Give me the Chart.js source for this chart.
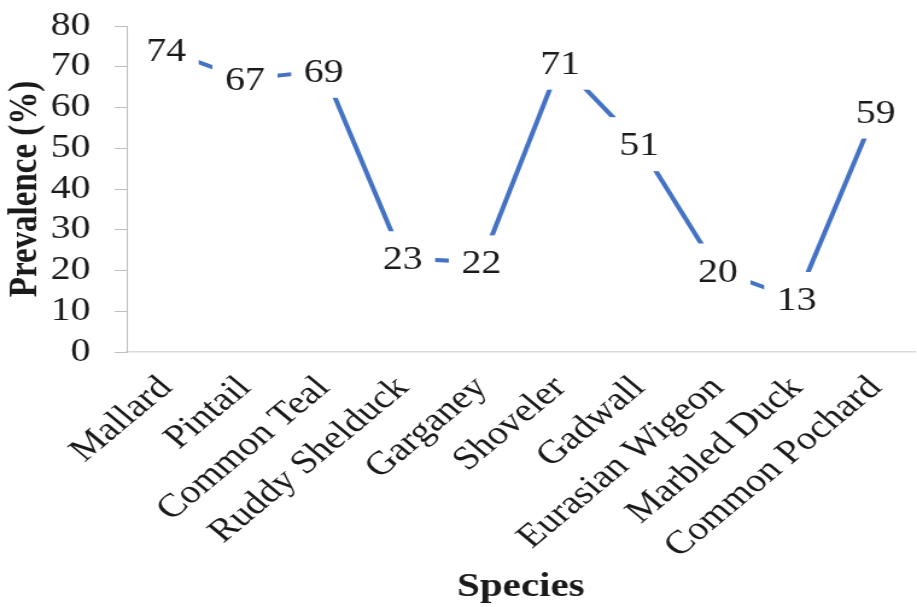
<!DOCTYPE html>
<html><head><meta charset="utf-8">
<script src="https://cdn.jsdelivr.net/npm/chart.js@4"></script>
<style>
html,body{margin:0;padding:0;background:#fff;overflow:hidden}
#c{display:block;width:917px !important;height:607px !important}
</style></head><body>
<canvas id="c" width="760" height="607"></canvas>
<script>
const categories = ['Mallard','Pintail','Common Teal','Ruddy Shelduck','Garganey','Shoveler','Gadwall','Eurasian Wigeon','Marbled Duck','Common Pochard'];
const prevalence = [74,67,69,23,22,71,51,20,13,59];
const yMin = 0, yMax = 80, yStep = 10;
const yTitle = 'Prevalence (%)';
const xTitle = 'Species';

const FONT = "'Liberation Serif','Times New Roman',serif";
const TXT = '#1a1a1a';

const boxLabels = {
  id: 'boxLabels',
  afterDatasetsDraw(chart) {
    const ctx = chart.ctx;
    const meta = chart.getDatasetMeta(0);
    ctx.save();
    ctx.font = '33px ' + FONT;
    ctx.textAlign = 'center';
    ctx.textBaseline = 'alphabetic';
    meta.data.forEach((pt, i) => {
      ctx.fillStyle = '#fff';
      ctx.fillRect(pt.x - 27, pt.y - 27, 54, 54);
      ctx.fillStyle = TXT;
      ctx.fillText(String(prevalence[i]), pt.x, pt.y + 11);
    });
    ctx.restore();
  }
};

new Chart(document.getElementById('c'), {
  type: 'line',
  data: {
    labels: categories,
    datasets: [{
      data: prevalence,
      borderColor: '#4472C4',
      borderWidth: 4,
      pointRadius: 0,
      tension: 0,
      fill: false,
      clip: false
    }]
  },
  options: {
    responsive: false,
    devicePixelRatio: 1,
    animation: false,
    layout: { padding: { top: 26, left: 0, right: 0, bottom: 0 } },
    plugins: { legend: { display: false }, tooltip: { enabled: false } },
    scales: {
      x: {
        type: 'category',
        offset: true,
        grid: { display: false },
        border: { display: true, color: '#d9d9d9', width: 1.5 },
        ticks: {
          autoSkip: false, minRotation: 45, maxRotation: 45,
          font: { family: FONT, size: 33, lineHeight: 1 }, color: TXT, padding: 11
        },
        title: {
          display: true, text: xTitle, color: TXT,
          font: { family: FONT, size: 34, weight: 'bold', lineHeight: 1 },
          padding: { top: 0, bottom: 3 }
        },
        afterFit(s) { s.height = 255; }
      },
      y: {
        min: yMin, max: yMax,
        grid: { drawOnChartArea: false, drawTicks: true, tickLength: 10, color: '#bfbfbf', lineWidth: 1 },
        border: { display: true, color: '#bfbfbf', width: 1 },
        ticks: {
          stepSize: yStep,
          font: { family: FONT, size: 33, lineHeight: 1 }, color: TXT, padding: 20
        },
        title: {
          display: true, text: yTitle, color: TXT,
          font: { family: FONT, size: 33, weight: 'bold', lineHeight: 1 },
          padding: { top: 5, bottom: 0 }
        },
        afterFit(s) { s.width = 105; s.paddingTop = 0; s.paddingBottom = 0; }
      }
    }
  },
  plugins: [boxLabels]
});
</script>
</body></html>
